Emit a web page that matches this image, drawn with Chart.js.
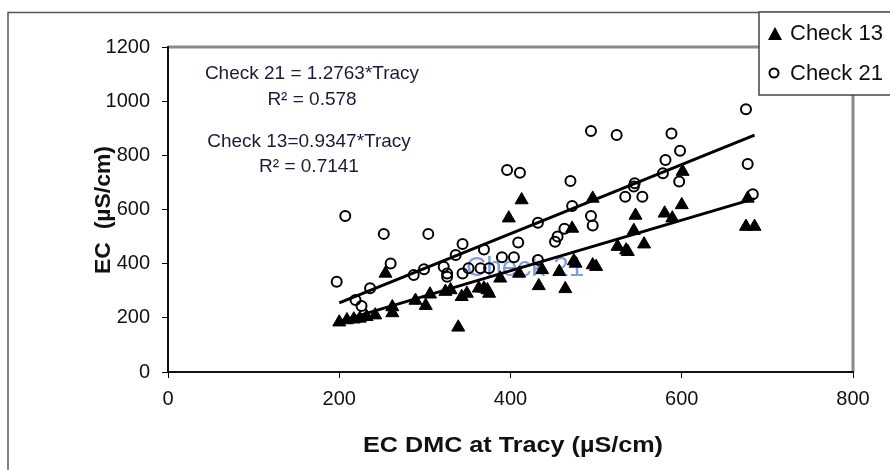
<!DOCTYPE html>
<html>
<head>
<meta charset="utf-8">
<script src="https://cdn.jsdelivr.net/npm/chart.js@4.4.0/dist/chart.umd.min.js"></script>
<style>
  html, body { margin: 0; padding: 0; background: #fff; }
  #wrap { width: 890px; height: 470px; }
</style>
</head>
<body>
<div id="wrap"><canvas id="ecChart" width="890" height="470"></canvas></div>
<script>
// Check 13 readings (triangles): EC DMC at Tracy vs EC at Check 13
const check13X = [200, 209, 217, 224, 232, 242, 254, 262, 262, 289, 301, 306, 324, 330, 339, 343, 349, 363, 369, 373, 375, 388, 398, 410, 413, 433, 437, 457, 464, 472, 474, 476, 496, 496, 500, 525, 535, 537, 544, 546, 556, 580, 589, 600, 601, 675, 677, 685];
const check13Y = [184, 192, 195, 198, 204, 210, 364, 240, 218, 264, 245, 287, 297, 303, 165, 278, 290, 309, 309, 303, 290, 346, 568, 364, 635, 318, 377, 370, 307, 530, 410, 401, 641, 395, 389, 463, 450, 444, 522, 578, 472, 586, 568, 617, 740, 537, 641, 537];

// Check 21 readings (open circles)
const check21X = [197, 207, 219, 226, 236, 252, 260, 287, 299, 304, 322, 326, 326, 336, 344, 344, 351, 365, 369, 375, 390, 396, 404, 409, 411, 432, 432, 452, 455, 463, 470, 472, 494, 494, 496, 524, 534, 545, 544, 554, 578, 581, 588, 597, 598, 675, 677, 683];
const check21Y = [333, 576, 266, 244, 309, 510, 401, 358, 379, 510, 389, 364, 352, 432, 473, 364, 383, 383, 452, 383, 424, 746, 424, 478, 736, 414, 551, 481, 500, 529, 705, 613, 890, 576, 541, 875, 647, 697, 685, 647, 734, 783, 881, 703, 817, 970, 768, 656];

// Trendline slopes (through origin) and the x span they are drawn over
const slope21 = 1.2763;
const slope13 = 0.9347;
const trendRange = [200, 685];

const seriesNames = ['Check 13', 'Check 21'];
const equationLines = ['Check 21 = 1.2763*Tracy', 'R² = 0.578', 'Check 13=0.9347*Tracy', 'R² = 0.7141'];

const toPoints = (xs, ys) => xs.map((x, i) => ({ x: x, y: ys[i] }));
const trend = slope => trendRange.map(x => ({ x: x, y: slope * x }));

const FONT = "'Liberation Sans', Arial, sans-serif";
const INK = '#1b1b38';

// draws text squeezed/stretched to a given width
function fitText(ctx, text, x, y, width, rotate) {
    const w = ctx.measureText(text).width;
    ctx.save();
    ctx.translate(x, y);
    if (rotate) ctx.rotate(-Math.PI / 2);
    ctx.scale(width / w, 1);
    ctx.fillText(text, 0, 0);
    ctx.restore();
}

const decorPlugin = {
    id: 'decor',
    beforeDraw(chart) {
        const ctx = chart.ctx;
        const a = chart.chartArea;
        ctx.save();
        ctx.fillStyle = '#fff';
        ctx.fillRect(0, 0, chart.width, chart.height);
        // outer chart frame
        ctx.strokeStyle = '#555';
        ctx.lineWidth = 1.5;
        ctx.beginPath();
        ctx.moveTo(8, chart.height + 2);
        ctx.lineTo(8, 12.5);
        ctx.lineTo(chart.width + 2, 12.5);
        ctx.stroke();
        // grey plot-area border, top and right
        ctx.strokeStyle = '#8a8a8a';
        ctx.lineWidth = 3;
        ctx.beginPath();
        ctx.moveTo(a.left, a.top);
        ctx.lineTo(a.right, a.top);
        ctx.lineTo(a.right, a.bottom);
        ctx.stroke();
        ctx.restore();
    },
    beforeDatasetsDraw(chart) {
        // stray label left in the source figure, mostly hidden under the markers
        const ctx = chart.ctx;
        ctx.save();
        ctx.globalAlpha = 0.6;
        ctx.font = '28px ' + FONT;
        ctx.fillStyle = '#2a5bd0';
        ctx.textBaseline = 'middle';
        ctx.fillText(seriesNames[1], 466, 268);
        ctx.restore();
    },
    afterDraw(chart) {
        const ctx = chart.ctx;
        ctx.save();
        // regression equations
        ctx.fillStyle = INK;
        ctx.textBaseline = 'middle';
        ctx.textAlign = 'center';
        ctx.font = '19px ' + FONT;
        ctx.fillText(equationLines[0], 312, 74);
        ctx.fillText(equationLines[1], 312, 100);
        ctx.fillText(equationLines[2], 309, 142);
        ctx.fillText(equationLines[3], 309, 167);

        // axis titles
        ctx.fillStyle = '#111';
        ctx.font = 'bold 22px ' + FONT;
        ctx.textAlign = 'center';
        fitText(ctx, 'EC DMC at Tracy (µS/cm)', 513, 446, 300, false);
        fitText(ctx, 'EC  (µS/cm)', 104, 210, 128, true);

        // legend box
        const lx = 759, ly = 12;
        ctx.fillStyle = '#fff';
        ctx.fillRect(lx, ly, 140, 83);
        ctx.strokeStyle = '#444';
        ctx.lineWidth = 1.5;
        ctx.strokeRect(lx, ly, 140, 83);
        ctx.fillStyle = '#000';
        ctx.beginPath();
        ctx.moveTo(775, 27);
        ctx.lineTo(782, 40);
        ctx.lineTo(768, 40);
        ctx.closePath();
        ctx.fill();
        ctx.beginPath();
        ctx.arc(774, 73, 4.5, 0, Math.PI * 2);
        ctx.lineWidth = 2;
        ctx.strokeStyle = '#000';
        ctx.stroke();
        ctx.fillStyle = '#111';
        ctx.font = '22px ' + FONT;
        ctx.textAlign = 'left';
        ctx.textBaseline = 'middle';
        ctx.fillText(seriesNames[0], 790, 34);
        ctx.fillText(seriesNames[1], 790, 74);
        ctx.restore();
    }
};

new Chart(document.getElementById('ecChart'), {
    type: 'scatter',
    data: {
        datasets: [
            {
                label: 'Check 21 trend',
                data: trend(slope21),
                showLine: true,
                borderColor: '#000',
                borderWidth: 3,
                pointRadius: 0
            },
            {
                label: 'Check 13 trend',
                data: trend(slope13),
                showLine: true,
                borderColor: '#000',
                borderWidth: 3,
                pointRadius: 0
            },
            {
                label: seriesNames[1],
                data: toPoints(check21X, check21Y),
                pointStyle: 'circle',
                pointRadius: 5,
                borderWidth: 2,
                borderColor: '#000',
                backgroundColor: 'rgba(0,0,0,0)'
            },
            {
                label: seriesNames[0],
                data: toPoints(check13X, check13Y),
                pointStyle: 'triangle',
                pointRadius: 7.5,
                borderWidth: 1,
                borderColor: '#000',
                backgroundColor: '#000'
            }
        ]
    },
    options: {
        responsive: false,
        animation: false,
        devicePixelRatio: 1,
        layout: { padding: { left: 0, top: 47, right: 37, bottom: 0 } },
        plugins: {
            legend: { display: false },
            tooltip: { enabled: false }
        },
        scales: {
            x: {
                type: 'linear',
                min: 0,
                max: 800,
                afterFit: s => { s.height = 98; },
                ticks: { stepSize: 200, color: '#111', padding: 9, font: { family: FONT, size: 20 }, callback: v => String(v) },
                grid: { drawOnChartArea: false, drawTicks: true, tickLength: 6, color: '#000' },
                border: { display: true, color: '#111', width: 2 }
            },
            y: {
                min: 0,
                max: 1200,
                afterFit: s => { s.width = 168; },
                ticks: { stepSize: 200, color: '#111', padding: 12, font: { family: FONT, size: 20 }, callback: v => String(v) },
                grid: { drawOnChartArea: false, drawTicks: true, tickLength: 6, color: '#000' },
                border: { display: true, color: '#111', width: 2 }
            }
        }
    },
    plugins: [decorPlugin]
});
</script>
</body>
</html>
